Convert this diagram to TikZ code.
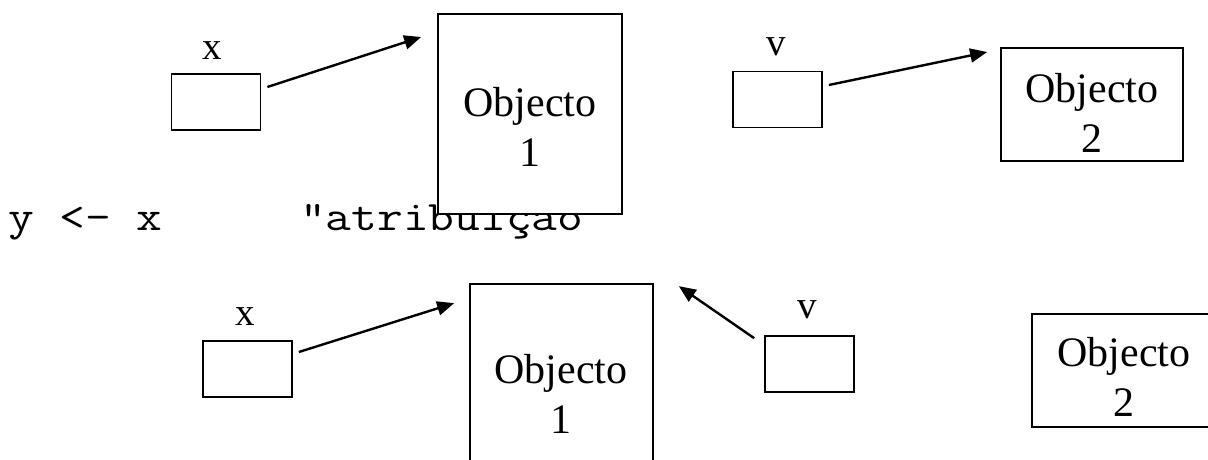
\documentclass[tikz,border=0pt]{standalone}
\usepackage{fontspec}
\usepackage{graphicx}
\setmainfont{Liberation Serif}
\usetikzlibrary{arrows.meta,calc}
\newcommand{\codeline}[1]{\scalebox{1.19}[1]{\ttfamily\fontsize{42}{46}\selectfont #1}}
\tikzset{
  refbox/.style={draw, line width=1.7pt, fill=white, inner sep=0pt, minimum width=89pt, minimum height=56pt},
  objbox/.style={draw, line width=1.7pt, fill=white, inner sep=0pt},
  objtext/.style={align=center, inner sep=0pt, font=\fontsize{42}{50}\selectfont},
  varname/.style={inner sep=0pt, font=\fontsize{39}{42}\selectfont},
  code/.style={inner sep=0pt, anchor=base west},
  ptr/.style={line width=2.4pt, -{Triangle[length=17pt,width=14pt]}}
}
\begin{document}
\begin{tikzpicture}[x=1pt, y=-1pt]
\useasboundingbox (0,0) rectangle (1208,459);

% assignment line (drawn first so the object box sits over it)
\node[code] (assign) at (8,230) {\codeline{y <- x}};
\node[code] (note) at (300,230) {\codeline{"atribuição}};

% --- before: x and v refer to two objects ---
\node[varname] (xlabA) at (212,51) {x};
\node[refbox] (xA) at (216,102) {};
\node[objbox, minimum width=184pt, minimum height=200pt] (o1A) at (530,114) {};
\node[objtext] (t1A) at ($(o1A.center)+(0,13)$) {Objecto\\1};

\node[varname] (vlabA) at (776,47) {v};
\node[refbox] (vA) at (777.5,99.5) {};
\node[objbox, minimum width=182pt, minimum height=113pt] (o2A) at (1092,104.5) {};
\node[objtext] (t2A) at ($(o2A.center)+(0,8)$) {Objecto\\2};

\draw[ptr] ($(xA.east)+(6,-15)$) -- ($(o1A.west)+(-16,-77)$);
\draw[ptr] ($(vA.east)+(6,-14.5)$) -- ($(o2A.west)+(-13,-52.5)$);

% --- after: both refer to object 1 ---
\node[varname] (xlabB) at (245,317) {x};
\node[refbox] (xB) at (247.5,369) {};
\node[objbox, minimum width=183pt, minimum height=200pt] (o1B) at (561.5,384) {};
\node[objtext] (t1B) at (561,394) {Objecto\\1};

\node[varname] (vlabB) at (807,310) {v};
\node[refbox] (vB) at (809.5,364) {};
\node[objbox, minimum width=184pt, minimum height=113pt] (o2B) at (1124,370.5) {};
\node[objtext] (t2B) at ($(o2B.center)+(0,6)$) {Objecto\\2};

\draw[ptr] ($(xB.east)+(6,-17)$) -- ($(o1B.north west)+(-15,20)$);
\draw[ptr] ($(vB.north west)+(-10,3)$) -- ($(o1B.north east)+(25,3)$);
\end{tikzpicture}
\end{document}
